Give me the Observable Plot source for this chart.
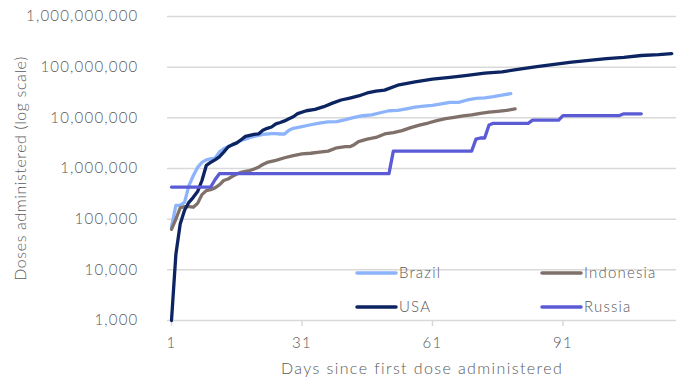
<!DOCTYPE html>
<html><head><meta charset="utf-8">
<script src="https://cdn.jsdelivr.net/npm/d3@7"></script>
<script src="https://cdn.jsdelivr.net/npm/@observablehq/plot@0.6"></script>
<style>
html,body{margin:0;padding:0;background:#fff;}
#chart{width:687px;height:382px;}
svg text{letter-spacing:1.2px;font-weight:300;}
svg .ytitle text{letter-spacing:0.6px;}
svg .xtitle text{letter-spacing:1.4px;}
</style></head><body><div id="chart"></div>
<script>
const seriesNames = ["Brazil", "Indonesia", "USA", "Russia"];
const seriesColors = ["#8db4fb", "#7f706a", "#0c2461", "#5b5bd6"];

const brazilDays = [1,2,3,4,5,6,7,8,9,10,11,12,13,14,15,16,17,18,19,20,22,24,25,26,27,28,29,31,33,35,37,39,41,43,45,47,49,51,53,55,57,59,61,63,65,67,69,71,73,75,77,79];
const brazilDoses = [70000,186000,190000,215000,460000,720000,1050000,1320000,1480000,1550000,1600000,2100000,2450000,2700000,2900000,3200000,3600000,3800000,4100000,4300000,4700000,4900000,4900000,4800000,4800000,5700000,6200000,6700000,7300000,7900000,8300000,8400000,9200000,10200000,11000000,11400000,12600000,13800000,14000000,15100000,16300000,17000000,17700000,18800000,20200000,20200000,22500000,24200000,24800000,26200000,28200000,30000000];

const indonesiaDays = [1,2,3,4,5,6,7,8,9,10,11,12,13,14,15,16,17,18,19,20,21,22,23,25,27,29,31,33,35,37,39,41,42,43,44,46,48,50,52,54,56,58,60,62,64,66,68,70,72,74,76,78,80];
const indonesiaDoses = [63000,100000,167000,177000,177000,172000,205000,305000,366000,383000,414000,475000,580000,620000,700000,780000,840000,880000,910000,980000,1060000,1200000,1320000,1450000,1630000,1800000,1940000,2000000,2100000,2200000,2560000,2700000,2700000,2950000,3400000,3800000,4100000,4800000,5100000,5600000,6400000,7200000,7900000,8800000,9600000,10200000,10900000,11400000,12300000,12900000,13400000,14000000,15000000];

const usaDays = [1,2,3,4,5,6,7,8,9,10,11,12,13,14,15,16,17,18,19,20,21,22,23,24,25,26,27,28,29,30,32,34,36,38,40,42,44,46,48,50,53,57,61,65,69,73,77,81,85,89,93,97,101,105,109,113,116];
const usaDoses = [1000,20000,80000,150000,215000,270000,350000,580000,1150000,1320000,1480000,1700000,2100000,2660000,2960000,3200000,3700000,4300000,4500000,4700000,4800000,5700000,6200000,6600000,7600000,8100000,8700000,9600000,10500000,12100000,13800000,14700000,16600000,19500000,22500000,24600000,27000000,31000000,33500000,35300000,44000000,51000000,58000000,63000000,69000000,76000000,81000000,91000000,102000000,114000000,126000000,136000000,147000000,156000000,170000000,177000000,185000000];

const russiaDays = [1,10,11,12,51,52,70,71,72,73,74,75,83,84,90,91,104,105,109];
const russiaDoses = [430000,430000,600000,790000,790000,2200000,2200000,3800000,4000000,4000000,7200000,7800000,7800000,9000000,9000000,11100000,11100000,12000000,12000000];

const xTicks = [1, 31, 61, 91];
const yTicks = [1e3, 1e4, 1e5, 1e6, 1e7, 1e8, 1e9];
const xLabel = "Days since first dose administered";
const yLabel = "Doses administered (log scale)";

const seriesData = [
  {name: "Brazil", days: brazilDays, doses: brazilDoses},
  {name: "Indonesia", days: indonesiaDays, doses: indonesiaDoses},
  {name: "USA", days: usaDays, doses: usaDoses},
  {name: "Russia", days: russiaDays, doses: russiaDoses}
];
const rows = [];
seriesData.forEach(s => s.days.forEach((d, i) => rows.push({series: s.name, day: d, doses: s.doses[i]})));

const textColor = "#595959";
const font = "Lato, 'Open Sans', sans-serif";

const chart = Plot.plot({
  width: 687, height: 382,
  marginTop: 16, marginBottom: 62, marginLeft: 167, marginRight: 11,
  style: {fontFamily: font, fontSize: "15px", color: textColor, background: "#fff"},
  x: {domain: [0.08, 117.1]},
  y: {type: "log", domain: [1e3, 1e9]},
  color: {domain: seriesNames, range: seriesColors},
  marks: [
    Plot.gridY(yTicks, {stroke: "#d9d9d9", strokeOpacity: 1, strokeWidth: 1.5}),
    Plot.axisY(yTicks, {tickSize: 0, tickPadding: 29, tickFormat: d3.format(","), label: null, fontSize: 15}),
    Plot.axisX(xTicks, {tickSize: 6, tickPadding: 11, stroke: "#d9d9d9", strokeWidth: 1.5, label: null, fontSize: 15}),
    Plot.line(rows, {x: "day", y: "doses", z: "series", stroke: "series", strokeWidth: 3.3, strokeLinecap: "round", strokeLinejoin: "round"}),
    Plot.text([xLabel], {frameAnchor: "bottom", dy: 48, lineAnchor: "middle", textAnchor: "middle", text: d => d, fontSize: 16, fill: textColor, className: "xtitle"}),
    Plot.text([yLabel], {frameAnchor: "left", dx: -147, rotate: -90, lineAnchor: "middle", textAnchor: "middle", text: d => d, fontSize: 16, fill: textColor, className: "ytitle"})
  ]
});
document.getElementById("chart").appendChild(chart);

// legend inside the plot area
const svg = d3.select(chart);
const legendX = [357, 542];
const legendY = [273, 307];
const leg = svg.append("g").attr("text-anchor", "start");
seriesNames.forEach((name, i) => {
  const gx = legendX[i % 2], gy = legendY[Math.floor(i / 2)];
  const g = leg.append("g").attr("transform", `translate(${gx},${gy})`);
  g.append("line").attr("x1", 0).attr("x2", 39).attr("y1", 0).attr("y2", 0)
    .attr("stroke", seriesColors[i]).attr("stroke-width", 3.5).attr("stroke-linecap", "round");
  g.append("text").attr("x", 42).attr("y", 0).attr("dy", "0.35em").attr("text-anchor", "start")
    .attr("fill", textColor).attr("font-size", 15).attr("font-family", font).text(name);
});
</script></body></html>
